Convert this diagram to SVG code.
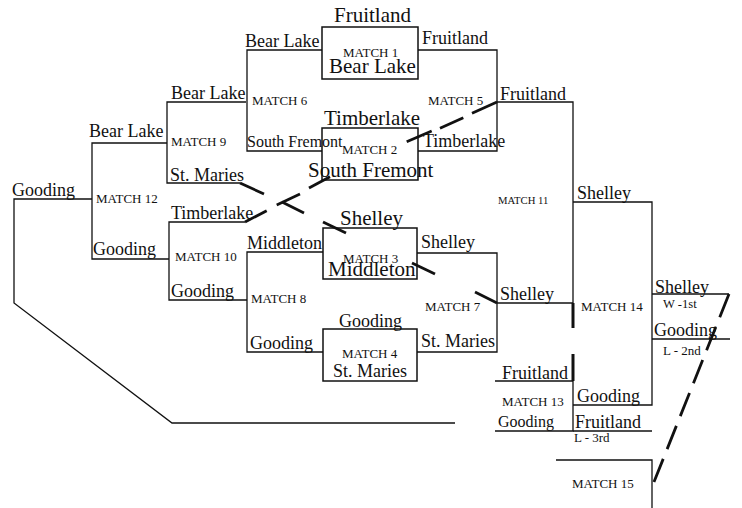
<svg xmlns="http://www.w3.org/2000/svg" width="742" height="508" viewBox="0 0 742 508">
<style>
.ln{fill:none;stroke:#111;stroke-width:1.3}
.bx{fill:none;stroke:#111;stroke-width:1.5}
.thick{stroke:#111;stroke-width:3;fill:none}
.dash{stroke:#111;stroke-width:2.8;fill:none}
text{font-family:"Liberation Serif","Times New Roman",serif;fill:#111}
.t18{font-size:18px}
.t21{font-size:21px}
.t16{font-size:16px}
.m{font-size:13px}
.s{font-size:10.7px}
.sm{font-size:12.6px}
</style>
<rect width="742" height="508" fill="#fff"/>
<g id="match1">
<rect class="bx" x="322" y="27" width="96" height="52"/>
<text class="t21" x="334" y="22">Fruitland</text>
<text class="m" x="343" y="57">MATCH 1</text>
<text class="t21" x="329" y="73">Bear Lake</text>
</g>
<g id="match2">
<rect class="bx" x="322" y="128" width="96" height="52"/>
<text class="t21" x="324" y="125">Timberlake</text>
<text class="m" x="342" y="154">MATCH 2</text>
<text class="t21" x="308" y="177">South Fremont</text>
</g>
<g id="match3">
<rect class="bx" x="323" y="228" width="94" height="51"/>
<text class="t21" x="340" y="225">Shelley</text>
<text class="m" x="343" y="263">MATCH 3</text>
<text class="t21" x="328" y="276">Middleton</text>
</g>
<g id="match4">
<rect class="bx" x="323" y="329" width="94" height="52"/>
<text class="t18" x="339" y="327">Gooding</text>
<text class="m" x="342" y="358">MATCH 4</text>
<text class="t18" x="333" y="377">St. Maries</text>
</g>
<g id="match5">
<text class="t18" x="422" y="44">Fruitland</text>
<text class="m" x="428" y="105">MATCH 5</text>
<text class="t18" x="423" y="147">Timberlake</text>
</g>
<g id="match6">
<text class="t18" x="245" y="47">Bear Lake</text>
<text class="m" x="252" y="105">MATCH 6</text>
<text class="t16" x="247" y="147">South Fremont</text>
</g>
<g id="match7">
<text class="t18" x="421" y="248">Shelley</text>
<text class="m" x="425" y="311">MATCH 7</text>
<text class="t18" x="421" y="347">St. Maries</text>
</g>
<g id="match8">
<text class="t18" x="247" y="249">Middleton</text>
<text class="m" x="251" y="303">MATCH 8</text>
<text class="t18" x="250" y="349">Gooding</text>
</g>
<g id="match9">
<text class="t18" x="171" y="99">Bear Lake</text>
<text class="m" x="171" y="146">MATCH 9</text>
<text class="t18" x="170" y="181">St. Maries</text>
</g>
<g id="match10">
<text class="t18" x="171" y="219">Timberlake</text>
<text class="m" x="175" y="261">MATCH 10</text>
<text class="t18" x="171" y="297">Gooding</text>
</g>
<g id="match11">
<text class="t18" x="500" y="100">Fruitland</text>
<text class="s" x="498" y="204">MATCH 11</text>
<text class="t18" x="500" y="300">Shelley</text>
</g>
<g id="match12">
<text class="t18" x="89" y="137">Bear Lake</text>
<text class="m" x="96" y="203">MATCH 12</text>
<text class="t18" x="93" y="255">Gooding</text>
<text class="t18" x="12" y="196">Gooding</text>
</g>
<g id="match13">
<text class="t18" x="502" y="379">Fruitland</text>
<text class="m" x="502" y="406">MATCH 13</text>
<text class="t16" x="498" y="427">Gooding</text>
</g>
<g id="match14">
<text class="t18" x="577" y="199">Shelley</text>
<text class="m" x="581" y="311">MATCH 14</text>
<text class="t18" x="577" y="402">Gooding</text>
<text class="t18" x="655" y="293">Shelley</text>
<text class="sm" x="663" y="308">W -1st</text>
<text class="t18" x="654" y="336">Gooding</text>
<text class="m" x="663" y="355">L - 2nd</text>
<text class="t18" x="575" y="428">Fruitland</text>
<text class="m" x="574" y="442">L - 3rd</text>
</g>
<g id="match15">
<text class="m" x="572" y="488">MATCH 15</text>
</g>
<g id="connectors">
<polyline class="ln" points="322,50 247,50 247,151 322,151"/>
<polyline class="ln" points="418,50 497,50 497,151 418,151"/>
<polyline class="ln" points="246,102 167,102 167,183 240,183"/>
<polyline class="ln" points="167,143 92,143 92,259 169,259"/>
<polyline class="ln" points="245,222 169,222 169,300 247,300"/>
<polyline class="ln" points="323,252 247,252 247,352 323,352"/>
<polyline class="ln" points="417,253 497,253 497,352 417,352"/>
<polyline class="ln" points="497,102 573,102 573,328"/>
<line class="ln" x1="497" y1="303" x2="573" y2="303"/>
<polyline class="ln" points="573,202 652,202 652,405 573,405"/>
<polyline class="ln" points="495,381 573,381 573,431 495,431"/>
<line class="ln" x1="573" y1="431" x2="652" y2="431"/>
<line class="ln" x1="652" y1="294" x2="729" y2="294"/>
<line class="ln" x1="652" y1="339" x2="730" y2="339"/>
<polyline class="ln" points="556,460 652,460 652,508"/>
<polyline class="ln" points="92,199 14,199 14,303 172,423 455,423"/>
<line class="thick" x1="573" y1="303" x2="573" y2="328"/>
<line class="thick" x1="573" y1="354" x2="573" y2="381"/>
<g class="dash">
<line x1="497" y1="102" x2="472" y2="113.3"/>
<line x1="463.3" y1="117.7" x2="440" y2="128.3"/>
<line x1="431.7" y1="131" x2="406.7" y2="141.7"/>
<line x1="330" y1="176.7" x2="309" y2="188"/>
<line x1="300" y1="194" x2="276.7" y2="205"/>
<line x1="266.7" y1="210.7" x2="245" y2="222"/>
<line x1="240" y1="183" x2="264" y2="194"/>
<line x1="282" y1="202" x2="304" y2="213"/>
<line x1="323" y1="222" x2="346" y2="233"/>
<line x1="412" y1="263" x2="435" y2="274"/>
<line x1="475" y1="292" x2="497" y2="303"/>
</g>
<line class="dash" x1="729" y1="294" x2="652" y2="487" stroke-dasharray="25 10.5"/>
</g>
</svg>
